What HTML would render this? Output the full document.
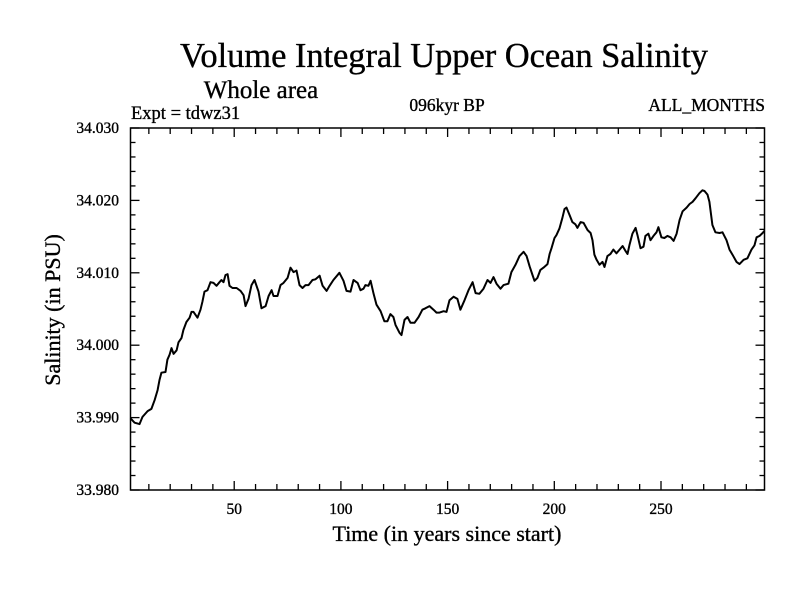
<!DOCTYPE html>
<html><head><meta charset="utf-8"><style>
body{margin:0;background:#fff;}
svg{display:block;font-family:"Liberation Serif",serif;}
text{stroke:#000;stroke-width:0.35;}
</style></head><body>
<svg id="chart" width="800" height="600" viewBox="0 0 800 600" xmlns="http://www.w3.org/2000/svg">
<rect width="800" height="600" fill="#fff"/>
<text x="444" y="67" font-size="34.5" text-anchor="middle" textLength="528">Volume Integral Upper Ocean Salinity</text>
<text x="261" y="98" font-size="25" text-anchor="middle">Whole area</text>
<text x="131" y="119" font-size="18.5">Expt = tdwz31</text>
<text x="447" y="111" font-size="17.5" text-anchor="middle">096kyr BP</text>
<text x="765" y="111" font-size="17.5" text-anchor="end">ALL_MONTHS</text>
<text x="447" y="541" font-size="22" text-anchor="middle">Time (in years since start)</text>
<text transform="translate(60,310) rotate(-90)" font-size="22" text-anchor="middle">Salinity (in PSU)</text>
<g id="axes"></g>
<path id="series" fill="none" stroke="#000" stroke-width="2" stroke-linejoin="round"/>
<rect x="130.5" y="128" width="634" height="362" fill="none" stroke="#000" stroke-width="1.5"/>
</svg>
<script>
const years=[1.4,3.3,5.6,7.0,9.4,11.2,12.7,14.1,15.0,15.9,17.8,18.7,19.7,20.6,21.6,23.0,23.9,25.3,26.2,27.6,29.1,30.0,30.9,32.8,34.2,35.1,36.1,37.5,38.9,40.3,41.7,43.1,44.0,45.0,45.9,46.9,47.8,49.2,51.1,53.0,54.4,55.3,56.7,58.1,59.5,61.4,62.8,64.7,66.1,67.5,68.4,70.3,71.7,73.1,75.0,76.4,77.8,79.2,80.6,82.0,83.4,84.8,86.7,88.1,90.0,91.4,93.3,94.7,96.5,
99.3,101.2,102.6,104.5,105.9,107.8,109.2,110.6,111.5,112.9,113.9,115.3,116.7,118.6,120.4,121.8,123.2,124.6,125.6,127.5,128.4,129.8,131.2,132.6,134.5,136.4,138.2,139.6,141.5,143.4,144.8,146.2,148.1,149.5,150.9,152.8,154.6,156.0,157.9,159.8,161.7,163.1,164.9,166.8,168.7,170.1,171.5,172.9,174.8,176.2,178.5,179.9,181.8,183.7,185.6,187.0,188.4,189.8,190.7,192.1,193.5,194.9,196.8,197.8,198.7,200.1,201.0,202.4,
203.8,204.8,205.7,207.1,208.5,209.9,210.8,212.3,213.7,215.6,217.0,217.9,218.8,219.8,221.2,222.6,223.5,224.9,226.3,227.7,229.1,230.6,232.0,233.4,234.3,235.2,236.6,238.1,239.0,240.4,241.8,242.7,244.1,245.1,246.5,247.9,248.8,250.2,251.6,253.0,254.5,255.9,257.3,258.7,260.1,262.0,263.4,264.8,266.2,268.0,269.4,270.4,271.8,272.7,274.1,275.5,277.4,278.8,280.7,282.1,283.5,285.4,286.8,288.7,290.5,292.4,293.8,294.8,296.2,297.6,298.5];
const salinity=[33.9899,33.9893,33.9891,33.9901,33.9909,33.9912,33.9924,33.9938,33.9952,33.9962,33.9963,33.9980,33.9987,33.9996,33.9988,33.9993,34.0004,34.0010,34.0021,34.0032,34.0038,34.0046,34.0046,34.0038,34.0049,34.0060,34.0074,34.0076,34.0087,34.0086,34.0082,34.0087,34.0090,34.0087,34.0097,34.0098,34.0082,34.0079,34.0079,34.0075,34.0069,34.0054,34.0064,34.0083,34.0090,34.0074,34.0051,34.0054,34.0068,34.0076,34.0068,34.0068,34.0083,34.0086,34.0093,34.0107,34.0101,34.0103,34.0083,34.0079,34.0083,34.0083,34.0090,34.0091,34.0096,34.0082,34.0075,34.0082,34.0090,
34.0100,34.0089,34.0075,34.0074,34.0090,34.0086,34.0076,34.0078,34.0083,34.0082,34.0089,34.0071,34.0056,34.0047,34.0033,34.0033,34.0043,34.0039,34.0028,34.0017,34.0014,34.0035,34.0039,34.0031,34.0031,34.0039,34.0049,34.0051,34.0054,34.0049,34.0045,34.0045,34.0047,34.0046,34.0062,34.0067,34.0064,34.0049,34.0062,34.0076,34.0087,34.0072,34.0071,34.0078,34.0090,34.0086,34.0094,34.0085,34.0078,34.0083,34.0085,34.0101,34.0111,34.0123,34.0129,34.0123,34.0109,34.0097,34.0089,34.0093,34.0104,34.0107,34.0112,34.0126,34.0134,34.0148,34.0152,34.0161,
34.0176,34.0188,34.0190,34.0180,34.0170,34.0167,34.0162,34.0170,34.0169,34.0159,34.0155,34.0145,34.0125,34.0118,34.0111,34.0115,34.0108,34.0123,34.0126,34.0132,34.0127,34.0132,34.0137,34.0130,34.0126,34.0138,34.0154,34.0162,34.0152,34.0134,34.0136,34.0151,34.0154,34.0145,34.0151,34.0156,34.0163,34.0149,34.0148,34.0151,34.0149,34.0144,34.0154,34.0173,34.0185,34.0190,34.0195,34.0198,34.0203,34.0210,34.0214,34.0213,34.0208,34.0198,34.0166,34.0156,34.0155,34.0156,34.0145,34.0132,34.0125,34.0115,34.0112,34.0118,34.0120,34.0132,34.0138,34.0149,34.0151,34.0155,34.0158];
const xTicks=[50,100,150,200,250];
const yTicks=[33.980,33.990,34.000,34.010,34.020,34.030];
const yTickLabels=["33.980","33.990","34.000","34.010","34.020","34.030"];

const X0=130.5,X1=764.5,Y0=490,Y1=128;
const xMin=1.4,xMax=298.5,yMin=33.98,yMax=34.03;
const xs=v=>X0+(v-xMin)/(xMax-xMin)*(X1-X0);
const ys=v=>Y0-(v-yMin)/(yMax-yMin)*(Y0-Y1);
const NS="http://www.w3.org/2000/svg";
const axes=document.getElementById('axes');
function ln(x1,y1,x2,y2,name){
  const l=document.createElementNS(NS,'line');
  l.setAttribute('x1',x1);l.setAttribute('y1',y1);l.setAttribute('x2',x2);l.setAttribute('y2',y2);
  l.setAttribute('stroke','#000');l.setAttribute('stroke-width','1.3');
  
  
  axes.appendChild(l);
}
function tx(x,y,s,anchor,name){
  const t=document.createElementNS(NS,'text');
  t.setAttribute('x',x);t.setAttribute('y',y);t.setAttribute('font-size','15.5');t.setAttribute('text-anchor',anchor);
  t.textContent=s;
  
  
  axes.appendChild(t);
}
for(let v=10;v<=290;v+=10){
  const major=v%50===0, L=major?9:6, x=xs(v);
  ln(x,Y0,x,Y0-L,'x-tick');
  ln(x,Y1,x,Y1+L,'x-tick-top');
}
xTicks.forEach(v=>tx(xs(v),514,String(v),'middle','x-tick-label'));
for(let i=0;i<=25;i++){
  const v=yMin+i*0.002, major=i%5===0, L=major?9:5, y=ys(v);
  ln(X0,y,X0+L,y,'y-tick');
  ln(X1,y,X1-L,y,'y-tick-right');
}
yTicks.forEach((v,i)=>tx(119,ys(v)+5,yTickLabels[i],'end','y-tick-label'));
let d='';
years.forEach((yr,i)=>{d+=(i?'L':'M')+xs(yr).toFixed(1)+','+ys(salinity[i]).toFixed(1);});
document.getElementById('series').setAttribute('d',d);
</script>
</body></html>
